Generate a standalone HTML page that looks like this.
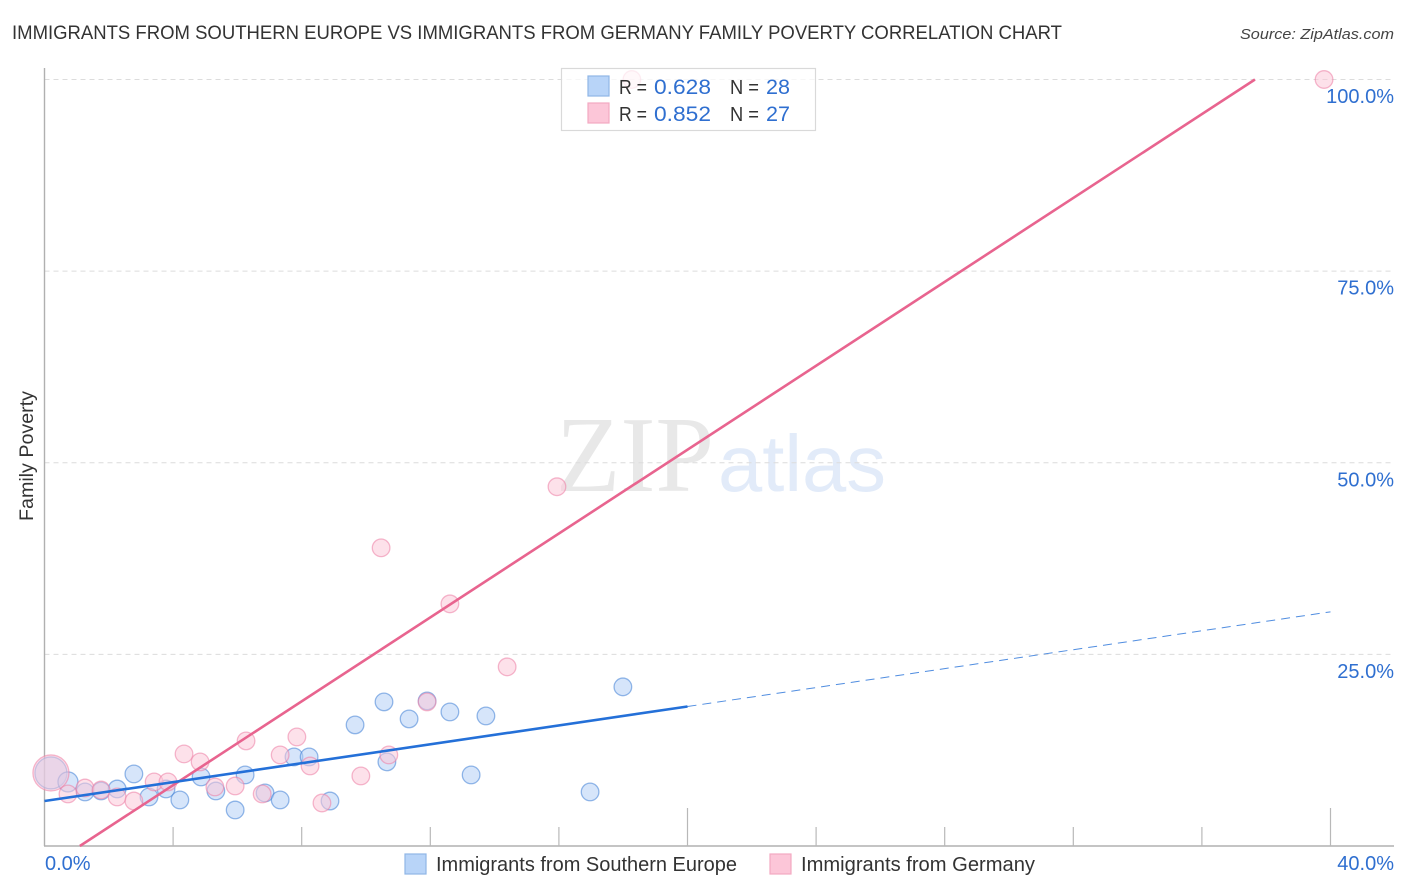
<!DOCTYPE html>
<html><head><meta charset="utf-8"><title>Family Poverty Correlation Chart</title>
<style>
html,body{margin:0;padding:0;background:#fff;width:1406px;height:892px;overflow:hidden}
svg{display:block}
text{font-family:"Liberation Sans",sans-serif}
</style></head>
<body>
<svg id="chart" width="1406" height="892" viewBox="0 0 1406 892" xmlns="http://www.w3.org/2000/svg">
<text x="12" y="39" font-size="19.5" fill="#333" textLength="1050" lengthAdjust="spacingAndGlyphs">IMMIGRANTS FROM SOUTHERN EUROPE VS IMMIGRANTS FROM GERMANY FAMILY POVERTY CORRELATION CHART</text>
<text x="1394" y="39" font-size="15" font-style="italic" fill="#444" text-anchor="end" textLength="154" lengthAdjust="spacingAndGlyphs">Source: ZipAtlas.com</text>
<g>
<text x="556" y="491" style="font-family:'Liberation Serif',serif" font-size="108" fill="#e8e8e8" textLength="158" lengthAdjust="spacingAndGlyphs">ZIP</text>
<text x="718" y="491" font-size="80" fill="#e2ebf9" textLength="168" lengthAdjust="spacingAndGlyphs">atlas</text>
</g>
<g id="grid"></g>
<g id="axes"></g>
<g id="points"></g>
<g id="lines"></g>
<g id="labels"></g>
<g>
<rect x="561.5" y="68.5" width="254" height="62" fill="#fff" fill-opacity="0.75" stroke="#d9d9d9" stroke-width="1.2"/>
<rect x="588" y="76" width="21" height="20" fill="#b8d4f8" stroke="#8fb6e6" stroke-width="1.2"/>
<rect x="588" y="103" width="21" height="20" fill="#fcc6d8" stroke="#f2a9c2" stroke-width="1.2"/>
<text x="619" y="94" font-size="20" fill="#333" textLength="28" lengthAdjust="spacingAndGlyphs">R =</text>
<text x="654" y="94" font-size="21" fill="#2f6fd0" textLength="57" lengthAdjust="spacingAndGlyphs">0.628</text>
<text x="730" y="94" font-size="20" fill="#333" textLength="29" lengthAdjust="spacingAndGlyphs">N =</text>
<text x="766" y="94" font-size="21" fill="#2f6fd0" textLength="24" lengthAdjust="spacingAndGlyphs">28</text>
<text x="619" y="121" font-size="20" fill="#333" textLength="28" lengthAdjust="spacingAndGlyphs">R =</text>
<text x="654" y="121" font-size="21" fill="#2f6fd0" textLength="57" lengthAdjust="spacingAndGlyphs">0.852</text>
<text x="730" y="121" font-size="20" fill="#333" textLength="29" lengthAdjust="spacingAndGlyphs">N =</text>
<text x="766" y="121" font-size="21" fill="#2f6fd0" textLength="24" lengthAdjust="spacingAndGlyphs">27</text>
</g>
<g>
<rect x="405" y="854" width="21" height="20" fill="#b8d4f8" stroke="#8fb6e6" stroke-width="1.2"/>
<text x="436" y="871" font-size="20" fill="#333" textLength="301" lengthAdjust="spacingAndGlyphs">Immigrants from Southern Europe</text>
<rect x="770" y="854" width="21" height="20" fill="#fcc6d8" stroke="#f2a9c2" stroke-width="1.2"/>
<text x="801" y="871" font-size="20" fill="#333" textLength="234" lengthAdjust="spacingAndGlyphs">Immigrants from Germany</text>
</g>
<text transform="translate(33,456) rotate(-90)" font-size="19" fill="#333" text-anchor="middle" textLength="130" lengthAdjust="spacingAndGlyphs">Family Poverty</text>
</svg>
<script>
const xTickValues = [0, 4, 8, 12, 16, 20, 24, 28, 32, 36, 40];
const yTickValues = [25, 50, 75, 100];
const yTickLabels = ['25.0%', '50.0%', '75.0%', '100.0%'];
const xEndLabels = ['0.0%', '40.0%'];

const europeX = [0.2,0.73,1.26,1.76,2.26,2.78,3.25,3.78,4.21,4.87,5.33,5.93,6.24,6.86,7.33,7.76,8.23,8.88,9.66,10.56,10.65,11.34,11.9,12.61,13.27,13.73,16.97,17.99];
const europeY = [9.53,8.36,7.05,7.18,7.44,9.4,6.4,7.44,6.01,9.01,7.18,4.7,9.27,6.92,6.01,11.62,11.62,5.87,15.8,18.8,10.97,16.58,18.93,17.49,9.27,16.97,7.05,20.76];
const europeR = [16,10,8.8,8.8,8.8,8.8,8.8,8.8,8.8,8.8,8.8,8.8,8.8,8.8,8.8,8.8,8.8,8.8,8.8,8.8,8.8,8.8,8.8,8.8,8.8,8.8,8.8,8.8];

const germanyX = [0.2,0.73,1.26,1.76,2.26,2.78,3.41,3.84,4.34,4.84,5.3,5.93,6.27,6.77,7.33,7.85,8.26,8.63,9.84,10.71,11.9,14.39,12.61,10.47,15.94,18.27,39.8];
const germanyY = [9.53,6.79,7.57,7.31,6.4,5.87,8.36,8.36,12.01,10.97,7.7,7.83,13.71,6.79,11.88,14.23,10.44,5.61,9.14,11.88,18.8,23.37,31.59,38.9,46.87,100,100];
const germanyR = [18,8.8,8.8,8.8,8.8,8.8,8.8,8.8,8.8,8.8,8.8,8.8,8.8,8.8,8.8,8.8,8.8,8.8,8.8,8.8,8.8,8.8,8.8,8.8,8.8,8.8,8.8];

const europeTrendSolid = [[0, 5.87], [20, 18.2]];
const europeTrendDashed = [[20, 18.2], [40, 30.55]];
const germanyTrend = [[1.1, 0], [37.65, 100]];

const NS = 'http://www.w3.org/2000/svg';
const sx = v => 44.5 + v * 32.15;
const sy = v => 846 - v * 7.665;

function make(parent, tag, attrs) {
  const el = document.createElementNS(NS, tag);
  for (const k in attrs) el.setAttribute(k, attrs[k]);
  document.getElementById(parent).appendChild(el);
  return el;
}

yTickValues.forEach(v => {
  const el = make('grid', 'line', {x1: 44.5, x2: 1394, y1: sy(v), y2: sy(v), stroke: '#dcdcdc', 'stroke-width': 1, 'stroke-dasharray': '5 4'});
  
  
});

const yAxis = make('axes', 'line', {x1: 44.5, x2: 44.5, y1: 68, y2: 846, stroke: '#b0b0b0', 'stroke-width': 1.4});


const xAxis = make('axes', 'line', {x1: 44, x2: 1394, y1: 846, y2: 846, stroke: '#b0b0b0', 'stroke-width': 1.4});



xTickValues.forEach(v => {
  if (v === 0) return;
  const long = v % 20 === 0;
  const el = make('axes', 'line', {x1: sx(v), x2: sx(v), y1: long ? 808 : 827, y2: 846, stroke: '#b8b8b8', 'stroke-width': 1.2});
  
  
});

function drawSeries(xs, ys, rs, fill, stroke, name) {
  xs.forEach((x, i) => {
    const c = make('points', 'circle', {cx: sx(x), cy: sy(ys[i]), r: rs[i], fill: fill, 'fill-opacity': 0.55, stroke: stroke, 'stroke-opacity': 0.55, 'stroke-width': 1.3});
    
    
  });
}
drawSeries(europeX, europeY, europeR, '#b4d0f6', '#3f7fd6', 'point-southern-europe');
drawSeries(germanyX, germanyY, germanyR, '#fbc8d9', '#ec7ea4', 'point-germany');

const pinkLine = make('lines', 'line', {x1: sx(germanyTrend[0][0]), y1: sy(germanyTrend[0][1]), x2: sx(germanyTrend[1][0]), y2: sy(germanyTrend[1][1]), stroke: '#e8648f', 'stroke-width': 2.6});


const blueLine = make('lines', 'line', {x1: sx(europeTrendSolid[0][0]), y1: sy(europeTrendSolid[0][1]), x2: sx(europeTrendSolid[1][0]), y2: sy(europeTrendSolid[1][1]), stroke: '#2470d8', 'stroke-width': 2.6});


const blueDash = make('lines', 'line', {x1: sx(europeTrendDashed[0][0]), y1: sy(europeTrendDashed[0][1]), x2: sx(europeTrendDashed[1][0]), y2: sy(europeTrendDashed[1][1]), stroke: '#2470d8', 'stroke-width': 1, 'stroke-dasharray': '9 6', 'stroke-opacity': 0.8});



yTickValues.forEach((v, i) => {
  const t = make('labels', 'text', {x: 1394, y: sy(v) + 23.5, 'font-size': 20, fill: '#2f6fd0', 'text-anchor': 'end'});
  t.textContent = yTickLabels[i];
  
  
});
const x0 = make('labels', 'text', {x: 45, y: 870, 'font-size': 20, fill: '#2f6fd0'});
x0.textContent = xEndLabels[0];


const x1 = make('labels', 'text', {x: 1394, y: 870, 'font-size': 20, fill: '#2f6fd0', 'text-anchor': 'end'});
x1.textContent = xEndLabels[1];


</script>
</body></html>
